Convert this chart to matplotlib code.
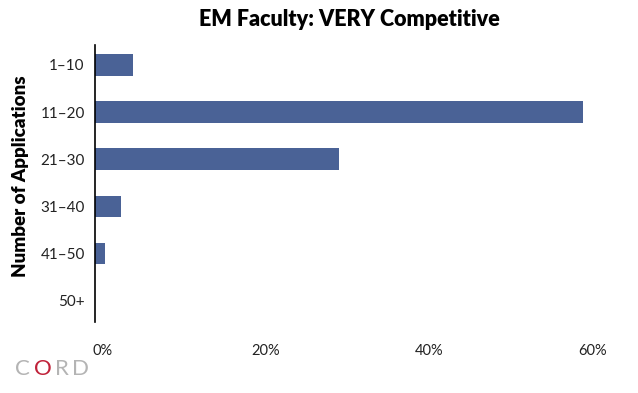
import matplotlib.pyplot as plt
import matplotlib.transforms as mtransforms
from matplotlib.ticker import PercentFormatter

# Data
categories = ['1–10', '11–20', '21–30', '31–40', '41–50', '50+']
shares = [4.7, 59.7, 29.9, 3.2, 1.3, 0.0]
x_ticks = [0, 20, 40, 60]

plt.rcParams['font.family'] = ['Lato', 'DejaVu Sans']

fig = plt.figure(figsize=(6.38, 3.93), dpi=100)
ax = fig.add_axes([94.5 / 638, 1 - 322 / 393, (585 - 94.5) / 638, (322 - 45) / 393])

ax.barh(range(len(categories)), shares, height=0.46, color='#4a6296')

ax.set_ylim(5.45, -0.42)
ax.set_xlim(0, 60)
ax.set_yticks(range(len(categories)))
ax.set_yticklabels(categories, fontsize=11, color='#222222')
ax.set_xticks(x_ticks)
ax.xaxis.set_major_formatter(PercentFormatter(decimals=0))
ax.tick_params(axis='both', length=0)
ax.tick_params(axis='x', pad=16)
ax.tick_params(axis='y', pad=7)
for lbl in ax.get_xticklabels():
    lbl.set_fontsize(10.5)
    lbl.set_color('#222222')
    lbl.set_transform(lbl.get_transform() + mtransforms.ScaledTranslation(8 / 100, 0, fig.dpi_scale_trans))

for side in ['top', 'right', 'bottom']:
    ax.spines[side].set_visible(False)
ax.spines['left'].set_linewidth(1.2)
ax.spines['left'].set_color('black')

fig.text(349 / 638, 1 - 20 / 393, 'EM Faculty: VERY Competitive', ha='center', va='center',
         fontsize=15.5, fontweight='heavy')
fig.text(21 / 638, 1 - 176 / 393, 'Number of Applications', rotation=90, ha='center', va='center',
         fontsize=13.5, fontweight='heavy')

# CORD logo as text
logo_letters = ['C', 'O', 'R', 'D']
logo_x = [22, 43, 62, 81]
logo_colors = ['#b4b4b4', '#c0223a', '#b4b4b4', '#b4b4b4']
for letter, lx, lc in zip(logo_letters, logo_x, logo_colors):
    fig.text(lx / 638, 1 - 369 / 393, letter, fontsize=16, color=lc, va='center', ha='center')

fig.savefig('out.png', dpi=100)
